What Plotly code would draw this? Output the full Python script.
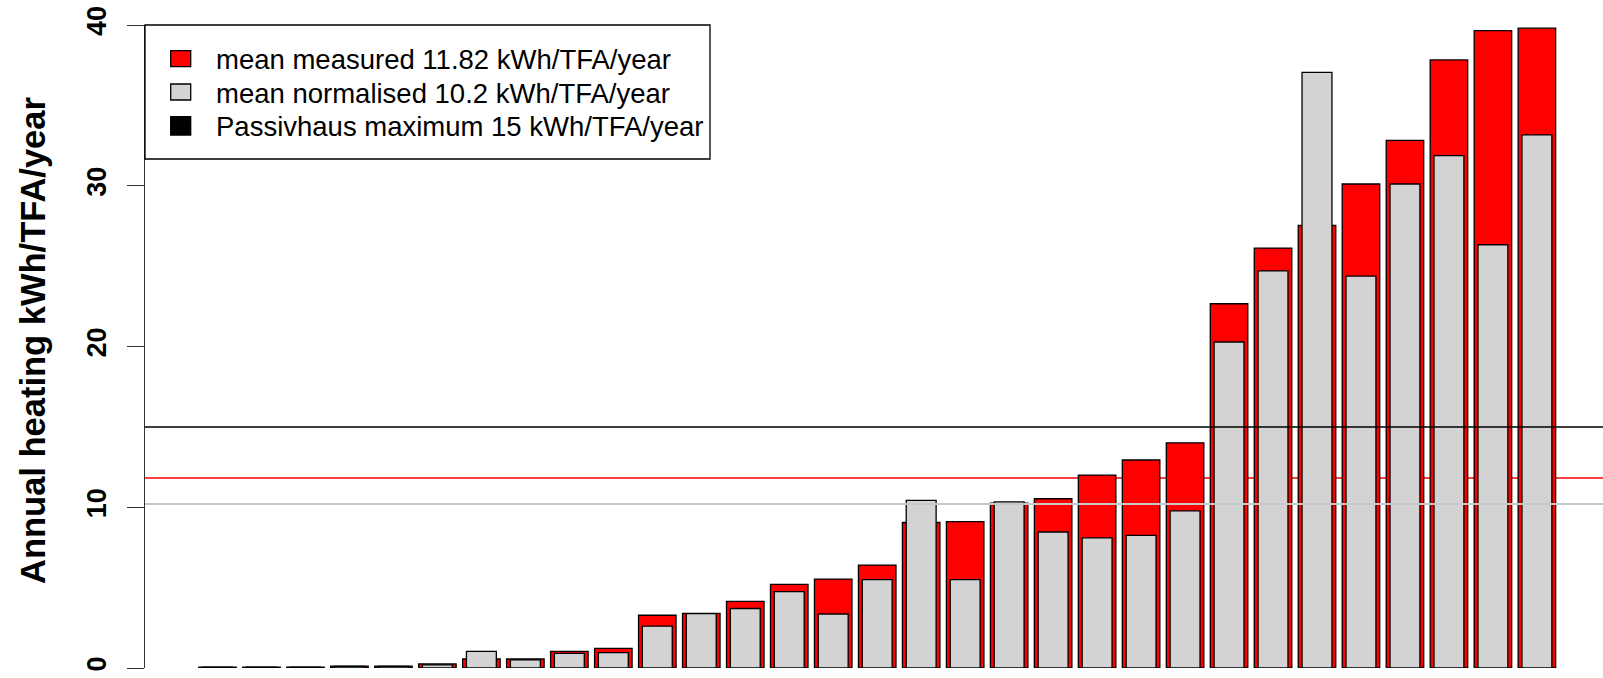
import plotly.graph_objects as go

# ---- data ----
homes = list(range(1, 32))
measured = [0.05, 0.05, 0.05, 0.12, 0.12, 0.25, 0.56, 0.56, 1.04, 1.22,
            3.28, 3.40, 4.15, 5.20, 5.53, 6.40, 9.05, 9.10, 10.25, 10.53,
            12.00, 12.94, 14.01, 22.66, 26.12, 27.54, 30.11, 32.82, 37.83, 39.65, 39.80]
normalised = [0.05, 0.05, 0.05, 0.10, 0.10, 0.20, 1.04, 0.50, 0.91, 0.96,
              2.60, 3.38, 3.70, 4.75, 3.36, 5.50, 10.43, 5.50, 10.33, 8.46,
              8.10, 8.25, 9.78, 20.28, 24.70, 37.05, 24.38, 30.11, 31.88, 26.33, 33.16]
mean_measured = 11.82
mean_normalised = 10.2
passivhaus_max = 15
y_ticks = [0, 10, 20, 30, 40]
legend_labels = ["mean measured 11.82 kWh/TFA/year",
                 "mean normalised 10.2 kWh/TFA/year",
                 "Passivhaus maximum 15 kWh/TFA/year"]
y_title = "Annual heating kWh/TFA/year"

RED = "#FF0000"
GREY = "#D3D3D3"
FONT = "Liberation Sans, Arial, sans-serif"

W, H = 1603, 678
ML, MR, MT, MB = 145, 0, 25, 10
PW, PH = W - ML - MR, H - MT - MB


def px_x(p):
    return (p - ML) / PW


def px_y(p):
    return (H - MB - p) / PH


fig = go.Figure()
fig.add_trace(go.Bar(x=homes, y=measured, width=0.853, marker=dict(color=RED, line=dict(color="black", width=1.3)),
                     cliponaxis=False, showlegend=False, name="measured"))
fig.add_trace(go.Bar(x=homes, y=normalised, width=0.68, marker=dict(color=GREY, line=dict(color="black", width=1.3)),
                     cliponaxis=False, showlegend=False, name="normalised"))

shapes = [
    dict(type="line", xref="paper", yref="y", x0=0, x1=1, y0=mean_measured, y1=mean_measured,
         line=dict(color=RED, width=1.3), layer="below"),
    dict(type="line", xref="paper", yref="y", x0=0, x1=1, y0=mean_normalised, y1=mean_normalised,
         line=dict(color="#C8C8C8", width=2), layer="above"),
    dict(type="line", xref="paper", yref="y", x0=0, x1=1, y0=passivhaus_max, y1=passivhaus_max,
         line=dict(color="black", width=1.5), layer="above"),
    # legend box
    dict(type="rect", xref="paper", yref="paper", x0=px_x(145), x1=px_x(710), y0=px_y(159), y1=px_y(25),
         line=dict(color="black", width=1.3), fillcolor="white", layer="above"),
]
sq = [(RED, 50.7, 66.7), (GREY, 84, 100), ("black", 116.7, 135)]
annotations = []
for (col, t, b), lab in zip(sq, legend_labels):
    shapes.append(dict(type="rect", xref="paper", yref="paper", x0=px_x(170.7), x1=px_x(190.7),
                       y0=px_y(b), y1=px_y(t), fillcolor=col, line=dict(color="black", width=1.3),
                       layer="above"))
    annotations.append(dict(xref="paper", yref="paper", x=px_x(214), y=px_y((t + b) / 2 + 1),
                            xanchor="left", yanchor="middle", text=lab, showarrow=False,
                            font=dict(family=FONT, size=27.5, color="black")))

annotations.append(dict(xref="paper", yref="paper", x=px_x(33), y=px_y(341), xanchor="center",
                        yanchor="middle", text=y_title, textangle=-90, showarrow=False,
                        font=dict(family=FONT, size=34.5, color="black", weight="bold")))

x0 = 1 - (217.5 - ML) / 43.98
x1 = x0 + PW / 43.98

fig.update_layout(
    width=W, height=H, margin=dict(l=ML, r=MR, t=MT, b=MB, autoexpand=False),
    paper_bgcolor="white", plot_bgcolor="white", barmode="overlay",
    xaxis=dict(range=[x0, x1], visible=False),
    yaxis=dict(range=[0, 40], tickvals=y_ticks, ticks="outside", ticklen=17, tickwidth=1.3,
               tickcolor="#333", showline=True, linecolor="#333", linewidth=1.3,
               showgrid=False, zeroline=False, tickangle=-90, ticklabelstandoff=10,
               tickfont=dict(family=FONT, size=27, color="black", weight="bold")),
    shapes=shapes, annotations=annotations,
)

fig.write_html("out.html")
